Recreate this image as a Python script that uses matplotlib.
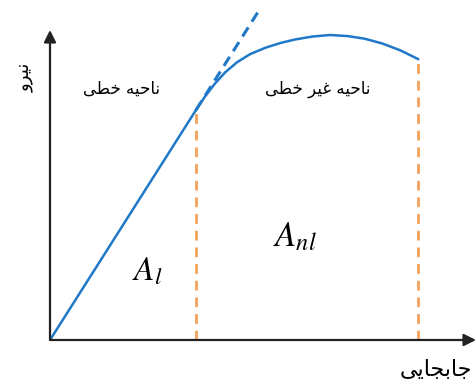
import matplotlib.pyplot as plt

plt.rcParams['font.family'] = ['DejaVu Sans']
plt.rcParams['mathtext.fontset'] = 'stix'

# خطی - نیرو / جابجایی (از روی شکل خوانده شده)
linear_x = [0, 146]
linear_y = [0, 230]
tangent_x = [146, 208]
tangent_y = [230, 328]
curve_x = [146, 155, 165, 175, 187, 200, 215, 230, 245, 262, 280, 298, 315, 332, 350, 368]
curve_y = [230, 243.5, 256.5, 267.5, 277.7, 285.8, 292.1, 296.9, 300.5, 303.4, 305, 303.9, 301.2, 296.6, 289.8, 281]

# برچسب ها (شکل نمایشی حروف فارسی، ترتیب از چپ به راست)
label_linear = '\uFEF0\uFEC4\uFEA7 \uFEEA\uFEF4\uFEA3\uFE8E\uFEE7'          # ناحیه خطی
label_nonlinear = '\uFEF0\uFEC4\uFEA7 \uFEAE\uFEF4\uFECF \uFEEA\uFEF4\uFEA3\uFE8E\uFEE7'  # ناحیه غیر خطی
label_force = '\uFEED\uFEAE\uFEF4\uFEE7'                                   # نیرو
label_disp = '\uFEF0\uFEF3\uFE8E\uFEA0\uFE91\uFE8E\uFE9F'                  # جابجایی

blue = '#1f78c8'
orange = '#f4a15a'

fig = plt.figure(figsize=(4.76, 3.87), dpi=100)
ax = fig.add_axes([0, 0, 1, 1])
ax.set_xlim(-50, 426)
ax.set_ylim(-47, 340)
ax.axis('off')

# محورها
ax.annotate('', xy=(426, 0), xytext=(0, 0),
            arrowprops=dict(arrowstyle='-|>', color='#222222', lw=1.6, mutation_scale=18, shrinkA=0, shrinkB=0))
ax.annotate('', xy=(0, 310), xytext=(0, 0),
            arrowprops=dict(arrowstyle='-|>', color='#222222', lw=1.6, mutation_scale=18, shrinkA=0, shrinkB=0))

ax.plot(linear_x, linear_y, color=blue, lw=1.8, solid_capstyle='butt')
ax.plot(tangent_x, tangent_y, color=blue, lw=2.2, ls=(0, (3.5, 2.2)))
ax.plot(curve_x, curve_y, color=blue, lw=1.8, solid_joinstyle='round')

ax.plot([linear_x[-1], linear_x[-1]], [0, linear_y[-1]], color=orange, lw=2, ls=(0, (3.5, 2.5)))
ax.plot([curve_x[-1], curve_x[-1]], [0, curve_y[-1]], color=orange, lw=2, ls=(0, (3.5, 2.5)))

ax.text(72, 251, label_linear, fontsize=12, ha='center', va='center')
ax.text(268, 251, label_nonlinear, fontsize=12, ha='center', va='center')
ax.text(-25, 263, label_force, fontsize=13, rotation=90, ha='center', va='center')
ax.text(386, -30, label_disp, fontsize=16, ha='center', va='center')

ax.text(97, 69, r'$A_l$', fontsize=24, ha='center', va='center')
ax.text(245, 104, r'$A_{nl}$', fontsize=25, ha='center', va='center')

plt.savefig('out.png', dpi=100)
